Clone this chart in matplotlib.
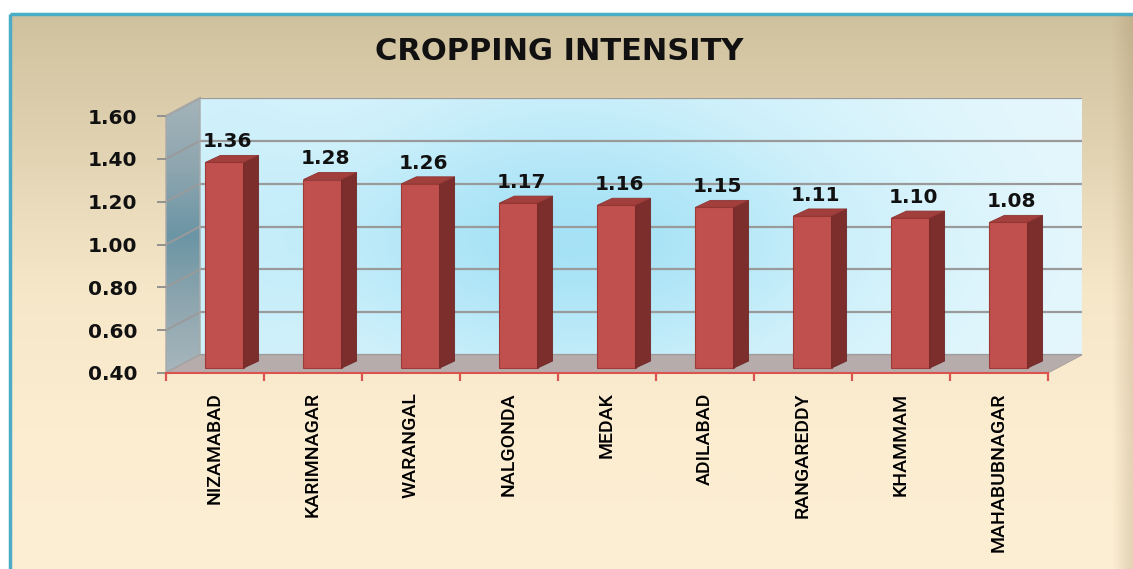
import numpy as np
import matplotlib
matplotlib.use('Agg')
import matplotlib.pyplot as plt
from matplotlib.patches import Polygon
from matplotlib.transforms import ScaledTranslation, IdentityTransform
from matplotlib.colors import LinearSegmentedColormap

# ---------------- data ----------------
districts = ['NIZAMABAD', 'KARIMNAGAR', 'WARANGAL', 'NALGONDA', 'MEDAK',
             'ADILABAD', 'RANGAREDDY', 'KHAMMAM', 'MAHABUBNAGAR']
intensity = [1.36, 1.28, 1.26, 1.17, 1.16, 1.15, 1.11, 1.10, 1.08]
y_ticks = [0.40, 0.60, 0.80, 1.00, 1.20, 1.40, 1.60]
title = 'CROPPING INTENSITY'

# ---------------- layout ----------------
W, H = 1133, 569
DPI = 100
fig = plt.figure(figsize=(W / DPI, H / DPI), dpi=DPI)
fig.patch.set_facecolor('white')


def fx(px):
    return px / W


def fy(py):
    return 1 - py / H


# plot-area geometry (pixels, y measured from top)
X0, X1 = 166, 1048      # front axis left / right
YB, YT = 373, 116       # front axis bottom (0.40) / top (1.60)
DX, DY = 34, 18         # depth offset of the back wall
BX, BY = 9.5, 5         # offset of bars into the depth
SX, SY = 15, 7          # bar depth

# ---------------- background panel ----------------
bg = fig.add_axes([0, 0, 1, 1], zorder=0)
panel_cmap = LinearSegmentedColormap.from_list(
    'panel', ['#d0c19e', '#e2d4b3', '#f6e7c9', '#fcedd1', '#fcefd4'])
grad = np.linspace(0, 1, 256)[:, None]
bg.imshow(grad, cmap=panel_cmap, extent=[10, W, H, 14], aspect='auto',
          interpolation='bicubic')
shade = np.linspace(0, 1, 64)[None, :]
shade_cmap = LinearSegmentedColormap.from_list(
    'shade', [(0.6, 0.5, 0.35, 0.0), (0.6, 0.5, 0.35, 0.25)])
bg.imshow(shade, cmap=shade_cmap, extent=[1112, W, H, 14], aspect='auto')
bg.plot([10, 10], [H, 14], color='#4bacc6', lw=2.5, solid_capstyle='butt')
bg.plot([10, W], [14, 14], color='#4bacc6', lw=2.5, solid_capstyle='butt')
bg.set_xlim(0, W)
bg.set_ylim(H, 0)
bg.axis('off')

# ---------------- back wall ----------------
ax_w = fx(X1) - fx(X0)
ax_h = fy(YT) - fy(YB)
back = fig.add_axes([fx(X0 + DX), fy(YB - DY), ax_w, ax_h], zorder=1)
u = np.linspace(0, 1, 300)[None, :]
v = np.linspace(0, 1, 150)[:, None]
field = np.exp(-((u - 0.42) / 0.38) ** 2) * (0.45 + 0.55 * np.exp(-((v - 0.45) / 0.45) ** 2))
field = 0.25 * np.exp(-((u - 0.0) / 0.12) ** 2) + field
wall_cmap = LinearSegmentedColormap.from_list('wall', ['#e8f8fd', '#cdf0fb', '#a6e2f6'])
back.imshow(field, cmap=wall_cmap, extent=[-0.5, 8.5, 0.4, 1.6], aspect='auto',
            origin='lower', vmin=0, vmax=1, interpolation='bicubic')
back.set_xlim(-0.5, 8.5)
back.set_ylim(0.4, 1.6)
back.set_yticks(y_ticks)
back.yaxis.grid(True, color='#9a9a9a', lw=1.6)
back.set_xticks([])
back.tick_params(axis='y', length=0, labelleft=False)
for s in back.spines.values():
    s.set_visible(False)

# ---------------- main axes ----------------
ax = fig.add_axes([fx(X0), fy(YB), ax_w, ax_h], zorder=3)
ax.patch.set_alpha(0)
ax.set_xlim(-0.5, 8.5)
ax.set_ylim(0.4, 1.6)

# ---------------- side wall & floor (display coords) ----------------
frame = fig.add_axes([0, 0, 1, 1], zorder=2)
frame.set_xlim(0, W)
frame.set_ylim(0, H)
frame.axis('off')
frame.patch.set_alpha(0)

fl_b = ax.transData.transform((-0.5, 0.4))
fl_t = ax.transData.transform((-0.5, 1.6))
fr_b = ax.transData.transform((8.5, 0.4))
d = np.array([DX, DY])

wall_poly = Polygon([fl_t, fl_t + d, fl_b + d, fl_b], closed=True,
                    transform=IdentityTransform(), facecolor='none',
                    edgecolor='#a9a9a9', lw=1.0, zorder=3)
side_cmap = LinearSegmentedColormap.from_list(
    'side', ['#a7b6bc', '#8ea6af', '#6b95a5', '#8ea6af', '#a3b3b9'])
side_img = frame.imshow(np.linspace(0, 1, 100)[:, None], cmap=side_cmap,
                        extent=[fl_b[0], fl_b[0] + DX, fl_b[1], fl_t[1] + DY],
                        aspect='auto', origin='lower', zorder=1)
frame.add_patch(wall_poly)
clip_poly = Polygon([fl_t, fl_t + d, fl_b + d, fl_b], closed=True,
                    transform=IdentityTransform())
side_img.set_clip_path(clip_poly)

for t in y_ticks:
    p = ax.transData.transform((-0.5, t))
    frame.plot([p[0], p[0] + DX], [p[1], p[1] + DY], color='#9a9a9a', lw=1.4,
               transform=IdentityTransform(), zorder=2)

floor = Polygon([fl_b, fr_b, fr_b + d, fl_b + d], closed=True,
                transform=IdentityTransform(), facecolor='#b6acac',
                edgecolor='#a8a0a0', lw=0.6, zorder=4)
frame.add_patch(floor)

# ---------------- bars ----------------
x = np.arange(len(districts))
vals = np.array(intensity)
bw = 0.39
btrans = ax.transData + ScaledTranslation(BX / DPI, BY / DPI, fig.dpi_scale_trans)
ax.bar(x, vals - 0.4, bottom=0.4, width=bw, color='#c0504d', edgecolor='#9e3b38',
       lw=0.8, transform=btrans, zorder=3)
s = np.array([SX, SY])
for xi, val in zip(x, vals):
    p0 = btrans.transform((xi + bw / 2, 0.4))
    p1 = btrans.transform((xi + bw / 2, val))
    q1 = btrans.transform((xi - bw / 2, val))
    ax.add_patch(Polygon([p0, p1, p1 + s, p0 + s], closed=True,
                         transform=IdentityTransform(), facecolor='#7c2e2c',
                         edgecolor='#6e2826', lw=0.6, zorder=3, clip_on=False))
    ax.add_patch(Polygon([q1, p1, p1 + s, q1 + s], closed=True,
                         transform=IdentityTransform(), facecolor='#a23f3c',
                         edgecolor='#8e3532', lw=0.6, zorder=3, clip_on=False))
    ax.annotate(f'{val:.2f}', xy=(xi, val), xycoords=btrans,
                xytext=(2, 11), textcoords='offset points',
                ha='center', va='baseline', fontsize=14.5, fontweight='bold',
                color='#111111', zorder=5)

# ---------------- axes styling ----------------
for sp in ['top', 'right', 'left']:
    ax.spines[sp].set_visible(False)
ax.spines['bottom'].set_color('#d9534f')
ax.spines['bottom'].set_linewidth(1.5)
ax.spines['bottom'].set_zorder(5)

ax.set_yticks(y_ticks)
ax.set_yticklabels([f'{t:.2f}' for t in y_ticks], fontsize=14.5, fontweight='bold',
                   color='#111111')
ax.tick_params(axis='y', length=6.5, width=1.3, color='#8c8c8c', pad=14)

ax.set_xticks(np.arange(len(districts) + 1) - 0.5)
ax.set_xticklabels([])
ax.tick_params(axis='x', which='major', length=6, width=1.6, color='#d9534f')
ax.set_xticks(x, minor=True)
ax.set_xticklabels(districts, minor=True, rotation=90, fontsize=14,
                   family=['Roboto', 'Liberation Sans', 'DejaVu Sans'],
                   fontweight='medium', color='#000000')
ax.tick_params(axis='x', which='minor', length=0, pad=14)

fig.text(fx(559), fy(52), title, ha='center', va='center', fontsize=22,
         fontweight='bold', color='#111111')

fig.savefig('out.png', dpi=DPI, facecolor=fig.get_facecolor())
